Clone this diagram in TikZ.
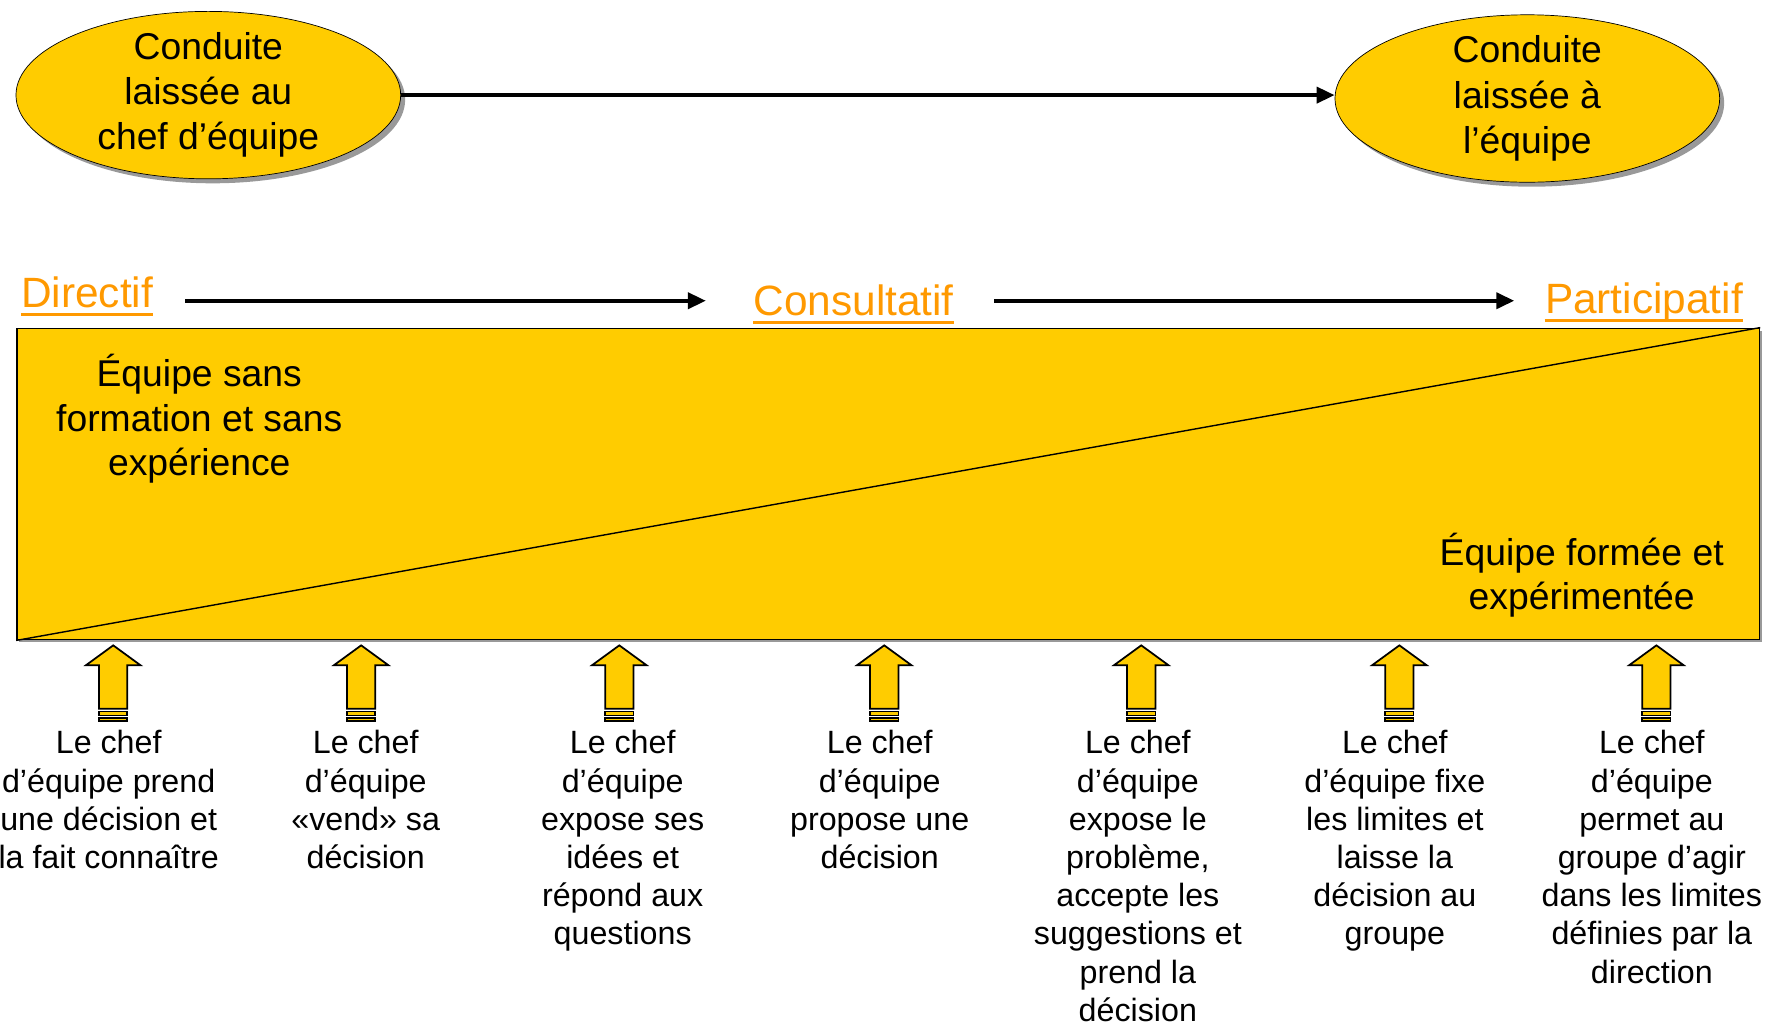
\documentclass[tikz,border=0pt]{standalone}
\usepackage{fontspec}
\setmainfont{Liberation Sans}
\usetikzlibrary{shapes.geometric,arrows.meta,shadows,calc}
\definecolor{jaune}{HTML}{FFCC00}
\definecolor{orangeniv}{HTML}{FF9900}

\tikzset{
  pole/.style={ellipse,draw=black,fill=jaune,align=center,inner xsep=0pt,inner ysep=-0.4cm,
    minimum width=7.72cm,minimum height=3.36cm,font=\fontsize{21.3}{25.8}\selectfont,
    drop shadow={shadow xshift=0.09cm,shadow yshift=-0.09cm,fill=gray!80,opacity=1}},
  niveau/.style={text=orangeniv,inner sep=0pt,font=\fontsize{24.2}{29}\selectfont},
  soulign/.style={draw=orangeniv,line width=1.8pt},
  flow/.style={-{Triangle[length=0.36cm,width=0.32cm]},line width=2.2pt},
  zone/.style={align=center,font=\fontsize{21.3}{25.4}\selectfont},
  legende/.style={align=center,anchor=north,inner sep=0pt,font=\fontsize{18.4}{21.8}\selectfont},
  fleche/.style={draw=black,fill=jaune,line width=1pt}
}

\begin{document}
\begin{tikzpicture}[x=0.02272cm,y=-0.02272cm]
	\useasboundingbox (0,0) rectangle (1566,908);
	% conduite
	\node (chef) [pole] at (184,84) {Conduite\\laissée au\\chef d’équipe};
	\node (equipe) [pole] at (1349,87) {Conduite\\laissée à\\l’équipe};
	\draw [flow] (chef) -- (chef -| equipe.west);
	% styles de direction
	\node (directif) [niveau,anchor=base] at (77,272) {Directif};
	\node (consultatif) [niveau,anchor=base] at (754,279) {Consultatif};
	\node (participatif) [niveau,anchor=base] at (1452,277) {Participatif};
	\foreach \n in {directif,consultatif,participatif}
		\draw [soulign] ($(\n.base west)+(0,6)$) -- ($(\n.base east)+(0,6)$);
	\draw [flow,shorten <=0.64cm,shorten >=0.95cm] (directif.east |- consultatif) -- (consultatif.west);
	\draw [flow,shorten <=0.8cm,shorten >=0.61cm] (consultatif.east) -- (participatif.west |- consultatif);
	% bande
	\node (bande) [draw=black,fill=jaune,line width=0.8pt,inner sep=0pt,minimum width=34.97cm,minimum height=6.25cm,
		drop shadow={shadow xshift=0.05cm,shadow yshift=-0.05cm,fill=gray!80,opacity=1}] at (784.5,427.5) {};
	\draw [line width=0.8pt] (bande.south west) -- (bande.north east);
	\node (debutant) [zone] at (176,370) {Équipe sans\\formation et sans\\expérience};
	\node (experte) [zone] at (1397,508) {Équipe formée et\\expérimentée};
	% comportements du chef
	\foreach \x/\ax/\texte [count=\i] in {
		96/100/{Le chef\\d’équipe prend\\une décision et\\la fait connaître},
		323/319/{Le chef\\d’équipe\\«vend» sa\\décision},
		550/547/{Le chef\\d’équipe\\expose ses\\idées et\\répond aux\\questions},
		777/781/{Le chef\\d’équipe\\propose une\\décision},
		1005/1008/{Le chef\\d’équipe\\expose le\\problème,\\accepte les\\suggestions et\\prend la\\décision},
		1232/1236/{Le chef\\d’équipe fixe\\les limites et\\laisse la\\décision au\\groupe},
		1459/1463/{Le chef\\d’équipe\\permet au\\groupe d’agir\\dans les limites\\définies par la\\direction}}{
		\node (act\i) [legende] at (\x,645) {\texte};
		\begin{scope}[shift={(\ax,648)}]
			\draw [fleche] (-12.5,-22) -- (-12.5,-60.5) -- (-24,-60.5) -- (0,-78) -- (24,-60.5) -- (12.5,-60.5) -- (12.5,-22) -- cycle;
			\draw [fleche] (-12.5,-19.5) rectangle (12.5,-16);
			\draw [fleche] (-12.5,-14) rectangle (12.5,-11);
		\end{scope}
	}
\end{tikzpicture}
\end{document}
